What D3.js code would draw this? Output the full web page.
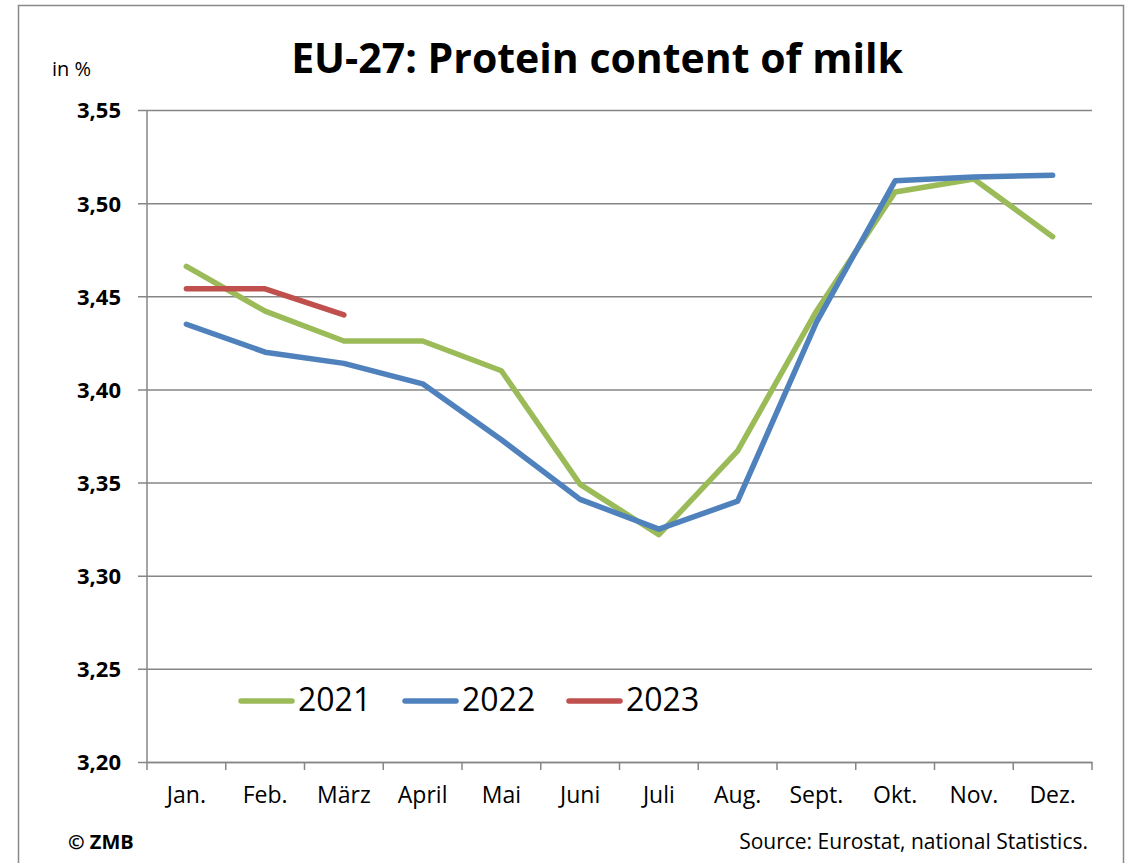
<!DOCTYPE html>
<html>
<head>
<meta charset="utf-8">
<script src="https://cdn.jsdelivr.net/npm/d3@7"></script>
<style>
  body { margin: 0; background: #fff; }
  text { font-family: "Open Sans", Lato, sans-serif; fill: #000; }
</style>
</head>
<body>
<div id="container"></div>
<script>
/* DATA */
const months = ["Jan.", "Feb.", "März", "April", "Mai", "Juni", "Juli", "Aug.", "Sept.", "Okt.", "Nov.", "Dez."]
const yTicks = [3.20, 3.25, 3.30, 3.35, 3.40, 3.45, 3.50, 3.55]
const values2021 = [3.466, 3.442, 3.426, 3.426, 3.410, 3.349, 3.322, 3.367, 3.442, 3.506, 3.513, 3.482]
const values2022 = [3.435, 3.420, 3.414, 3.403, 3.373, 3.341, 3.325, 3.340, 3.436, 3.512, 3.514, 3.515]
const values2023 = [3.454, 3.454, 3.440]

const series = [
    { name: "2021", values: values2021, color: "#9BBB59" },
    { name: "2022", values: values2022, color: "#4F81BD" },
    { name: "2023", values: values2023, color: "#C0504D" }
]

/* CONSTANTS */
const width = 1135,
    height = 863,
    plot = { left: 147, right: 1092, top: 110, bottom: 762 }

const svg = d3.select("#container")
    .append("svg")
    .attr("width", width)
    .attr("height", height)

// outer frame
svg.append("rect")
    .attr("x", 18.5).attr("y", 5.5)
    .attr("width", 1105).attr("height", 870)
    .attr("fill", "none")
    .attr("stroke", "#898989")
    .attr("stroke-width", 1.5)

//SCALES
const xScale = d3.scaleBand()
    .domain(months)
    .range([plot.left, plot.right])

const yScale = d3.scaleLinear()
    .domain([3.20, 3.55])
    .range([plot.bottom, plot.top])

const fmt = d => d3.format(".2f")(d).replace(".", ",")

// GRIDLINES + Y AXIS
const yAxis = d3.axisLeft(yScale)
    .tickValues(yTicks)
    .tickFormat(fmt)
    .tickSize(-(plot.right - plot.left))
    .tickPadding(26)

const gy = svg.append("g")
    .attr("transform", "translate(" + plot.left + ",0)")
    .call(yAxis)
gy.select(".domain").remove()
gy.selectAll(".tick line")
    .attr("x1", -9)
    .attr("stroke", "#868686")
    .attr("stroke-width", 1.5)
gy.selectAll(".tick text")
    .style("font-size", "22px")
    .style("font-weight", "bold")
    .attr("dy", "0.36em")

// left axis line
svg.append("line")
    .attr("x1", plot.left).attr("x2", plot.left)
    .attr("y1", plot.top).attr("y2", plot.bottom)
    .attr("stroke", "#868686")
    .attr("stroke-width", 1.5)

// X AXIS
const xAxis = d3.axisBottom(xScale).tickSize(0).tickPadding(25)
const gx = svg.append("g")
    .attr("transform", "translate(0," + plot.bottom + ")")
    .call(xAxis)
gx.select(".domain")
    .attr("stroke", "#868686")
    .attr("stroke-width", 1.5)
gx.selectAll(".tick text")
    .style("font-size", "23px")
    .attr("dy", "0.71em")

// category boundary ticks
const bounds = months.map(m => xScale(m)).concat([plot.right])
svg.append("g").selectAll("line")
    .data(bounds)
    .join("line")
    .attr("x1", d => d).attr("x2", d => d)
    .attr("y1", plot.bottom).attr("y2", plot.bottom + 8)
    .attr("stroke", "#868686")
    .attr("stroke-width", 1.5)

// LINES
const line = d3.line()
    .x((d, i) => xScale(months[i]) + xScale.bandwidth() / 2)
    .y(d => yScale(d))

svg.append("g").selectAll("path")
    .data(series)
    .join("path")
    .attr("d", d => line(d.values))
    .attr("fill", "none")
    .attr("stroke", d => d.color)
    .attr("stroke-width", 5.5)
    .attr("stroke-linecap", "round")
    .attr("stroke-linejoin", "round")

// LEGEND
const legend = svg.append("g").selectAll("g")
    .data(series)
    .join("g")
    .attr("transform", (d, i) => "translate(" + (241 + i * 164) + ",701)")
legend.append("line")
    .attr("x1", 0).attr("x2", 51)
    .attr("stroke", d => d.color)
    .attr("stroke-width", 5.5)
    .attr("stroke-linecap", "round")
legend.append("text")
    .attr("x", 57)
    .attr("y", 10)
    .style("font-size", "32px")
    .text(d => d.name)

// LABELS
svg.append("text")
    .attr("x", 597)
    .attr("y", 73)
    .attr("text-anchor", "middle")
    .style("font-size", "41px")
    .style("font-weight", "bold")
    .text("EU-27: Protein content of milk")

svg.append("text")
    .attr("x", 52)
    .attr("y", 76)
    .style("font-size", "20px")
    .text("in %")

svg.append("text")
    .attr("x", 68)
    .attr("y", 849)
    .style("font-size", "20px")
    .style("font-weight", "bold")
    .text("© ZMB")

svg.append("text")
    .attr("x", 1088)
    .attr("y", 849)
    .attr("text-anchor", "end")
    .style("font-size", "21px")
    .text("Source: Eurostat, national Statistics.")
</script>
</body>
</html>
